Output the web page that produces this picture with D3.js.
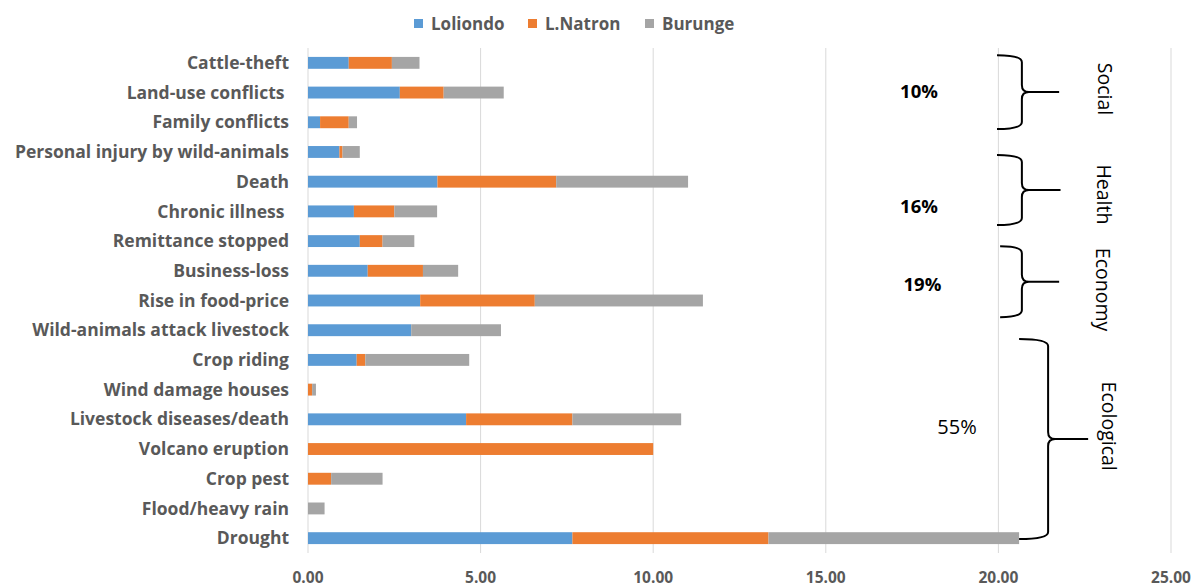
<!DOCTYPE html>
<html>
<head>
<meta charset="utf-8">
<script src="https://cdn.jsdelivr.net/npm/d3@7"></script>
<style>
  body { margin: 0; background: #fff; }
  text { font-family: "Open Sans", "Liberation Sans", sans-serif; }
</style>
</head>
<body>
<div id="chart"></div>
<script>
// categories top -> bottom
var categories = ["Cattle-theft", "Land-use conflicts ", "Family conflicts", "Personal injury by wild-animals",
  "Death", "Chronic illness ", "Remittance stopped", "Business-loss", "Rise in food-price",
  "Wild-animals attack livestock", "Crop riding", "Wind damage houses", "Livestock diseases/death",
  "Volcano eruption", "Crop pest", "Flood/heavy rain", "Drought"];

var seriesNames = ["Loliondo", "L.Natron", "Burunge"];
var loliondo = [1.18, 2.66, 0.35, 0.91, 3.75, 1.33, 1.50, 1.73, 3.25, 2.99, 1.41, 0.00, 4.58, 0.00, 0.00, 0.00, 7.66];
var natron   = [1.25, 1.27, 0.83, 0.09, 3.44, 1.17, 0.66, 1.60, 3.32, 0.00, 0.25, 0.12, 3.08, 10.00, 0.67, 0.00, 5.68];
var burunge  = [0.80, 1.74, 0.24, 0.50, 3.82, 1.24, 0.92, 1.02, 4.87, 2.60, 3.01, 0.11, 3.15, 0.00, 1.49, 0.48, 7.26];
var colors = ["#5b9bd5", "#ed7d31", "#a5a5a5"];
var xTicks = [0, 5, 10, 15, 20, 25];

// groups: brace spans in category-index units, percent share
var groupNames = ["Social", "Health", "Economy", "Ecological"];
var groupPct = ["10%", "16%", "19%", "55%"];
var groupFrom = [0.24, 3.6, 6.67, 9.8];
var groupTo = [2.73, 5.96, 9.06, 16.53];

var width = 1198, height = 588;
var margin = {top: 48, left: 308, right: 27, bottom: 35};

var svg = d3.select("#chart").append("svg")
    .attr("width", width)
    .attr("height", height);

var x = d3.scaleLinear().domain([0, 25]).range([margin.left, width - margin.right]);
var y = d3.scaleBand().domain(categories).range([margin.top, height - margin.bottom]).paddingInner(0.6).paddingOuter(0.3);
var step = y.step();
var yIdx = function(v) { return margin.top + v * step; };

// grid
svg.append("g")
    .selectAll("line")
    .data(xTicks)
    .enter()
    .append("line")
    .attr("x1", function(d) { return x(d); })
    .attr("x2", function(d) { return x(d); })
    .attr("y1", margin.top)
    .attr("y2", height - margin.bottom)
    .style("stroke", "#d9d9d9")
    .style("stroke-width", 1);

// x axis labels
svg.append("g")
    .selectAll("text")
    .data(xTicks)
    .enter()
    .append("text")
    .attr("x", function(d) { return x(d); })
    .attr("y", 583)
    .attr("text-anchor", "middle")
    .style("font-size", "15.5px")
    .style("font-weight", "bold")
    .style("fill", "#595959")
    .text(function(d) { return d.toFixed(2); });

// stacked bars
var rows = categories.map(function(c, i) {
  return {cat: c, Loliondo: loliondo[i], "L.Natron": natron[i], Burunge: burunge[i]};
});
var stack = d3.stack().keys(seriesNames)(rows);

svg.append("g")
    .selectAll("g")
    .data(stack)
    .enter()
    .append("g")
    .style("fill", function(d, i) { return colors[i]; })
    .selectAll("rect")
    .data(function(d) { return d; })
    .enter()
    .append("rect")
    .attr("x", function(d) { return x(d[0]); })
    .attr("width", function(d) { return x(d[1]) - x(d[0]); })
    .attr("y", function(d) { return y(d.data.cat); })
    .attr("height", y.bandwidth());

// category labels
svg.append("g")
    .selectAll("text")
    .data(categories)
    .enter()
    .append("text")
    .attr("x", 289)
    .attr("y", function(d) { return y(d) + y.bandwidth() / 2; })
    .attr("dy", "0.35em")
    .attr("text-anchor", "end")
    .style("font-size", "17.5px")
    .style("font-weight", "bold")
    .style("fill", "#595959")
    .style("white-space", "pre")
    .text(function(d) { return d; });

// legend
var legend = svg.append("g")
    .selectAll("g")
    .data(seriesNames)
    .enter()
    .append("g")
    .attr("transform", function(d, i) { return "translate(" + [414, 528, 645][i] + ",24)"; });
legend.append("rect")
    .attr("x", 0).attr("y", -5)
    .attr("width", 9).attr("height", 9)
    .style("fill", function(d, i) { return colors[i]; });
legend.append("text")
    .attr("x", 17)
    .attr("dy", "0.35em")
    .style("font-size", "17px")
    .style("font-weight", "bold")
    .style("fill", "#595959")
    .text(function(d) { return d; });

// braces
function bracePath(x0, xv, xt, y0, y1) {
  var ym = (y0 + y1) / 2, r = 7;
  return "M" + x0 + "," + y0 + " Q" + xv + "," + y0 + " " + xv + "," + (y0 + r) +
    " L" + xv + "," + (ym - r) + " Q" + xv + "," + ym + " " + (xv + r) + "," + ym +
    " L" + xt + "," + ym +
    " M" + (xv + r) + "," + ym + " Q" + xv + "," + ym + " " + xv + "," + (ym + r) +
    " L" + xv + "," + (y1 - r) + " Q" + xv + "," + y1 + " " + x0 + "," + y1;
}
var braceX0 = [19.96, 19.96, 20.05, 20.6];
var braceXv = [20.68, 20.68, 20.68, 21.44];
var braceXt = [21.76, 21.8, 21.76, 22.6];
var labelX = [23.09, 23.06, 23.03, 23.19];
var labelY = [1.38, 4.93, 8.13, 12.73];
var pctX = [17.7, 17.7, 17.8, 18.8];
var pctY = [1.47, 5.35, 7.95, 12.77];

var br = svg.append("g");
groupNames.forEach(function(g, i) {
  br.append("path")
      .attr("d", bracePath(x(braceX0[i]), x(braceXv[i]), x(braceXt[i]), yIdx(groupFrom[i]), yIdx(groupTo[i])))
      .style("fill", "none")
      .style("stroke", "#000")
      .style("stroke-width", 2);
  br.append("text")
      .attr("transform", "translate(" + x(labelX[i]) + "," + yIdx(labelY[i]) + ") rotate(90)")
      .attr("text-anchor", "middle")
      .attr("dy", "0.35em")
      .style("font-size", "19.5px")
      .style("fill", "#000")
      .text(g);
  br.append("text")
      .attr("x", x(pctX[i]))
      .attr("y", yIdx(pctY[i]))
      .attr("dy", "0.35em")
      .attr("text-anchor", "middle")
      .style("font-size", i == 3 ? "20px" : "18.5px")
      .style("font-weight", i == 3 ? "normal" : "bold")
      .style("fill", "#000")
      .text(groupPct[i]);
});
</script>
</body>
</html>
